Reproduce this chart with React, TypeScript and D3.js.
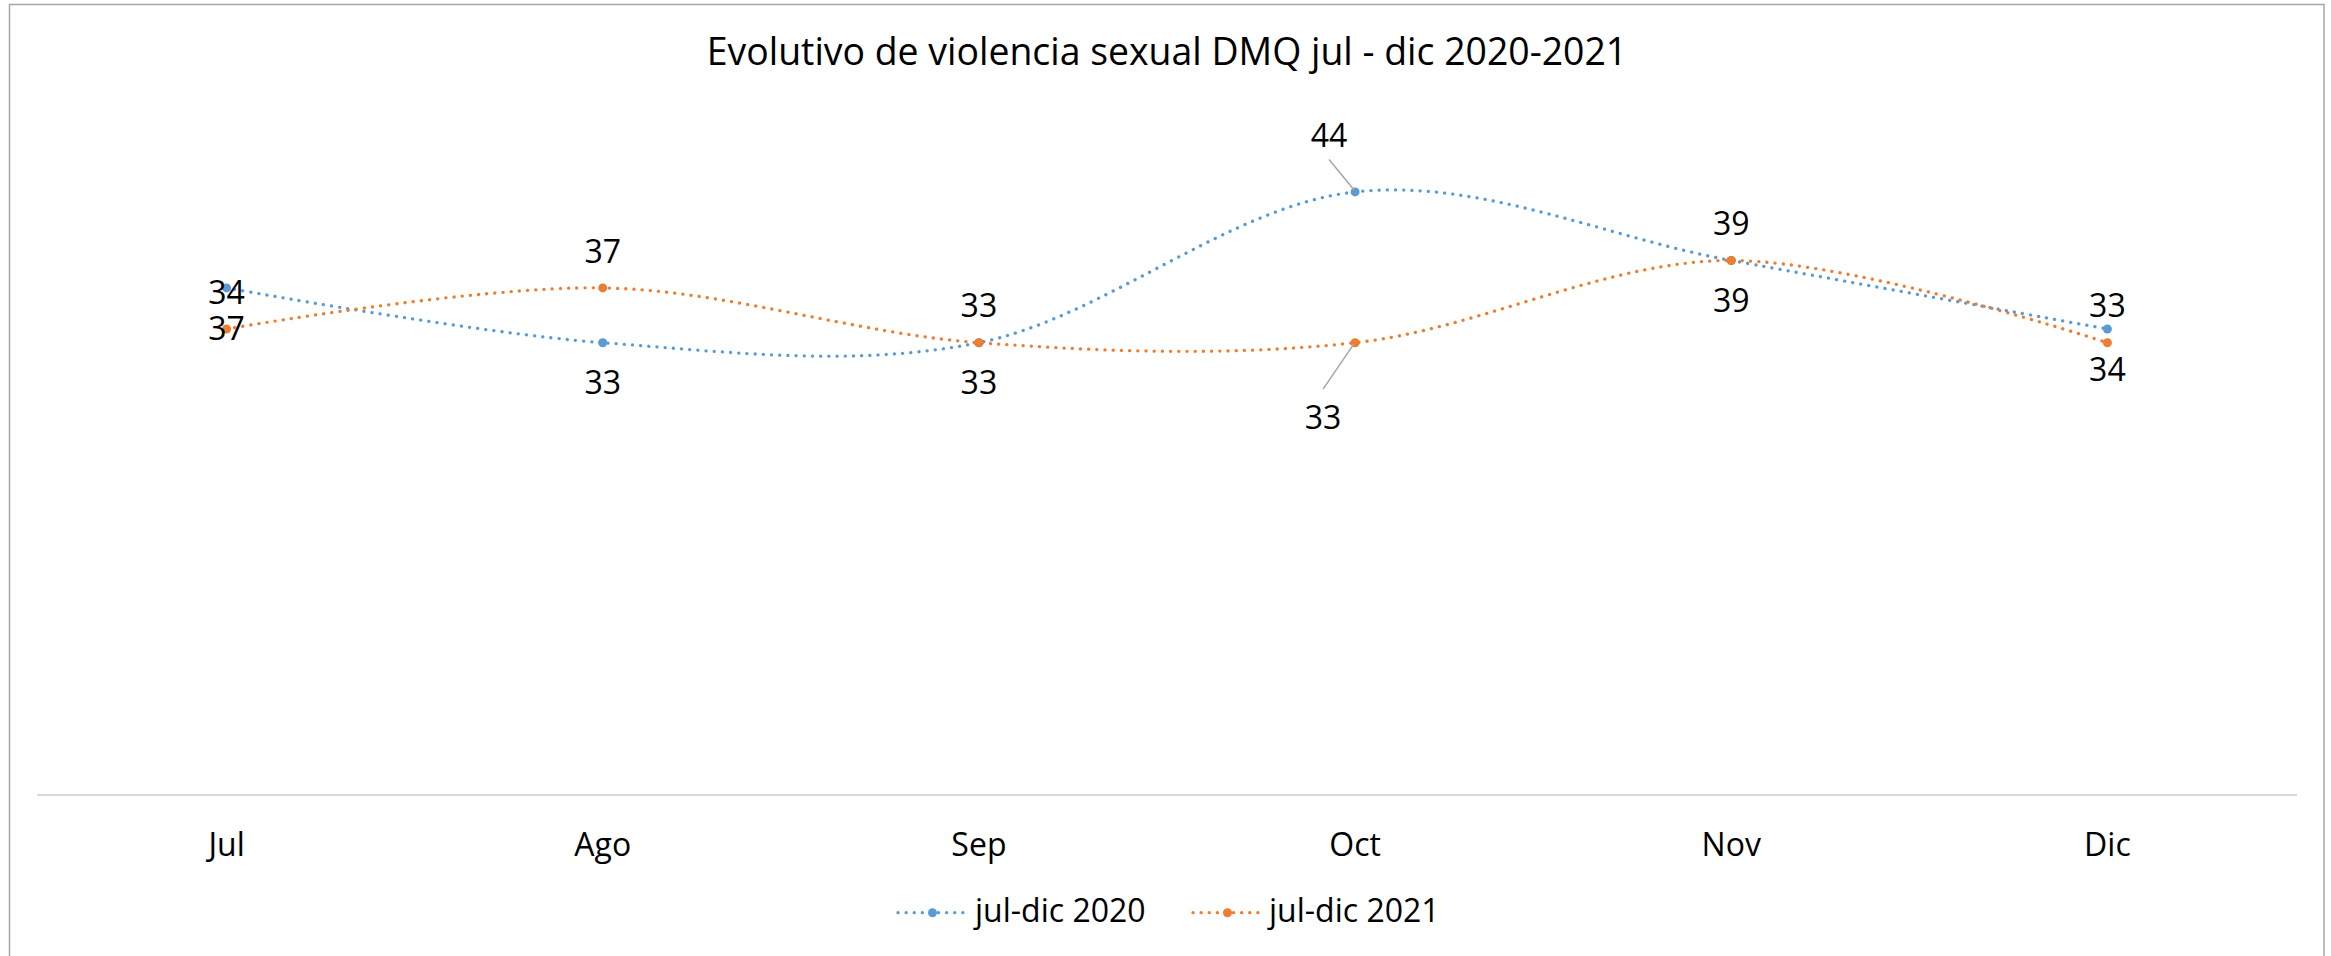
import React from "react";
import * as d3 from "d3";

const months = ["Jul", "Ago", "Sep", "Oct", "Nov", "Dic"];
const values2020 = [37, 33, 33, 44, 39, 34];
const values2021 = [34, 37, 33, 33, 39, 33];
const seriesNames = ["jul-dic 2020", "jul-dic 2021"];
const title = "Evolutivo de violencia sexual DMQ jul - dic 2020-2021";

const W = 2331;
const H = 956;
const FONT = "'Open Sans', 'Noto Sans', sans-serif";
const colors = ["#5b9bd5", "#ed7d31"];

// label placement: 'below' for 2020, 'above' for 2021; Oct has manual offsets with leader lines
const labelOffsets2020: ({ dx: number; dy: number; leader?: boolean } | null)[] = [
  null, null, null, { dx: -26, dy: -45, leader: true }, null, null,
];
const labelOffsets2021: ({ dx: number; dy: number; leader?: boolean } | null)[] = [
  null, null, null, { dx: -32, dy: 86, leader: true }, null, null,
];

export default function App() {
  const x = d3.scalePoint<string>().domain(months).range([38.5, 2295.5]).padding(0.5);
  const y = d3.scaleLinear().domain([0, 50]).range([795, 109.7]);
  const line = d3
    .line<number>()
    .x((_, i) => x(months[i]) as number)
    .y((d) => y(d))
    .curve(d3.curveCardinal.tension(0));

  const series = [
    { name: seriesNames[0], values: values2020, color: colors[0], offsets: labelOffsets2020, defDy: 51.7 },
    { name: seriesNames[1], values: values2021, color: colors[1], offsets: labelOffsets2021, defDy: -25.3 },
  ];

  const legendItems = [
    { x0: 898, x1: 967, tx: 975 },
    { x0: 1193, x1: 1262, tx: 1269 },
  ];

  return (
    <svg
      width={W}
      height={H}
      style={{ position: "absolute", left: 0, top: 0, display: "block", background: "#fff" }}
      fontFamily={FONT}
    >
      <rect x={0} y={0} width={W} height={H} fill="#fff" />
      <rect x={9.5} y={4.5} width={2314.5} height={H + 20} fill="none" stroke="#a6a6a6" strokeWidth={1.5} />
      <text x={1167} y={65} textAnchor="middle" fontSize={37.4} fill="#000">
        {title}
      </text>
      {/* category axis line */}
      <line x1={37} x2={2297} y1={795} y2={795} stroke="#d9d9d9" strokeWidth={1.8} />
      {months.map((m) => (
        <text key={m} x={x(m)} y={856} textAnchor="middle" fontSize={32} fill="#000">
          {m}
        </text>
      ))}
      {series.map((s) => (
        <g key={s.name}>
          <path
            d={line(s.values) || ""}
            fill="none"
            stroke={s.color}
            strokeWidth={3.3}
            strokeLinecap="round"
            strokeDasharray="0.1 8.1"
          />
          {s.values.map((v, i) => (
            <circle key={i} cx={x(months[i])} cy={y(v)} r={4.5} fill={s.color} />
          ))}
        </g>
      ))}
      {series.map((s) => (
        <g key={s.name + "-labels"}>
          {s.values.map((v, i) => {
            const px = x(months[i]) as number;
            const py = y(v);
            const off = s.offsets[i];
            if (off) {
              const lx = px + off.dx;
              const ly = py + off.dy;
              const above = off.dy < 0;
              return (
                <g key={i}>
                  <line
                    x1={lx}
                    y1={above ? ly + 12.6 : ly - 39.6}
                    x2={px - 1}
                    y2={above ? py - 2 : py + 1}
                    stroke="#a6a6a6"
                    strokeWidth={1.5}
                  />
                  <text x={lx} y={ly} textAnchor="middle" fontSize={32} fill="#000">
                    {v}
                  </text>
                </g>
              );
            }
            return (
              <text key={i} x={px} y={py + s.defDy} textAnchor="middle" fontSize={32} fill="#000">
                {v}
              </text>
            );
          })}
        </g>
      ))}
      {series.map((s, k) => {
        const li = legendItems[k];
        const cy = 912.7;
        return (
          <g key={s.name + "-legend"}>
            <line
              x1={li.x0}
              x2={li.x1}
              y1={cy}
              y2={cy}
              stroke={s.color}
              strokeWidth={3.3}
              strokeLinecap="round"
              strokeDasharray="0.1 8"
            />
            <circle cx={(li.x0 + li.x1) / 2} cy={cy} r={4.5} fill={s.color} />
            <text x={li.tx} y={922.3} fontSize={32} fill="#000">
              {s.name}
            </text>
          </g>
        );
      })}
    </svg>
  );
}
